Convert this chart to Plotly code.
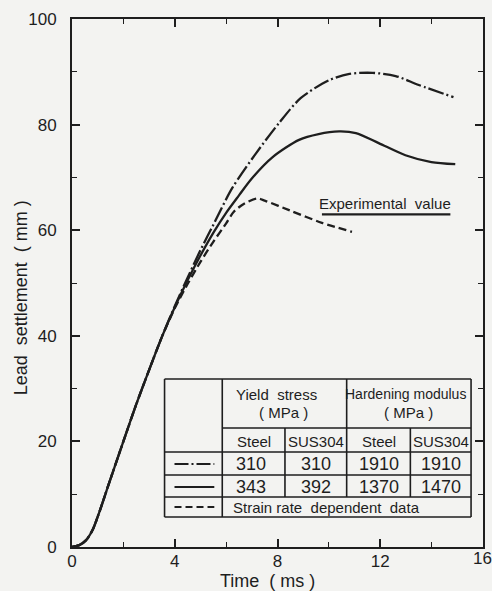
import plotly.graph_objects as go

# ---- data ----
common_x = [0, 0.3, 0.55, 0.8, 1.05, 1.45, 2.0, 2.5, 3.0, 3.5]
common_y = [0, 0.4, 1.3, 3.2, 6.4, 12.2, 20.0, 27.0, 33.5, 39.8]

dashdot_x = [4.0, 4.5, 5.0, 5.5, 6.24, 7.17, 8.06, 8.9, 10.0, 10.8, 11.7, 12.6, 13.5, 14.85]
dashdot_y = [45.6, 51.0, 56.2, 61.0, 68.0, 74.6, 80.3, 85.0, 88.4, 89.6, 89.8, 89.2, 87.5, 85.2]

solid_x = [4.0, 4.5, 5.0, 5.5, 6.0, 6.5, 7.0, 7.8, 8.84, 9.6, 10.4, 11.05, 11.94, 12.98, 13.99, 14.92]
solid_y = [45.4, 50.5, 55.2, 59.5, 63.3, 66.6, 69.8, 73.8, 77.1, 78.2, 78.7, 78.4, 76.5, 74.2, 72.9, 72.5]

dashed_x = [4.0, 4.5, 5.0, 5.5, 6.0, 6.3, 6.7, 7.2, 7.5, 8.45, 9.73, 10.9]
dashed_y = [45.2, 49.8, 54.0, 57.8, 61.3, 63.5, 65.0, 66.0, 65.6, 63.8, 61.4, 59.7]

exp_x = [9.73, 14.73]
exp_y = [63.0, 63.0]

yield_steel = [310, 343]
yield_sus = [310, 392]
hard_steel = [1910, 1370]
hard_sus = [1910, 1470]

x_ticks = [0, 4, 8, 12, 16]
y_ticks = [0, 20, 40, 60, 80, 100]

# ---- layout geometry ----
W, H = 492, 591
L, R, T, B = 72, 485, 19, 547
FONT = "Liberation Sans, Arial, sans-serif"
INK = "#1e1e1e"
BG = "#f3f3f1"
DASHDOT = "16px,3px,2px,3px"
DASHED = "8px,4px"


def P(px, py):
    return ((px - L) / (R - L), (B - py) / (B - T))


fig = go.Figure()
lw = 2.3


def full(xs, ys):
    return common_x + xs, common_y + ys


for xs, ys, dash in [(dashdot_x, dashdot_y, DASHDOT),
                     (solid_x, solid_y, "solid"),
                     (dashed_x, dashed_y, DASHED)]:
    fx, fy = full(xs, ys)
    fig.add_trace(go.Scatter(x=fx, y=fy, mode="lines",
                             line=dict(color=INK, width=lw, dash=dash, shape="spline", smoothing=0.8),
                             showlegend=False, hoverinfo="skip"))

fig.add_trace(go.Scatter(x=exp_x, y=exp_y, mode="lines",
                         line=dict(color=INK, width=2.3), showlegend=False, hoverinfo="skip"))

shapes = []


def seg(x0, y0, x1, y1, dash="solid", w=1.6):
    a = P(x0, y0)
    b = P(x1, y1)
    shapes.append(dict(type="line", xref="paper", yref="paper", x0=a[0], y0=a[1], x1=b[0], y1=b[1],
                       line=dict(color=INK, width=w, dash=dash)))


# table frame
seg(165, 379, 473, 379)
seg(165, 517, 473, 517)
seg(165, 379, 165, 517)
seg(473, 379, 473, 517)
seg(223, 379, 223, 517)
seg(348, 379, 348, 497)
seg(286, 428, 286, 497)
seg(412, 428, 412, 497)
seg(223, 428, 473, 428)
for yy in (452, 475, 497):
    seg(165, yy, 473, yy)
# legend samples
seg(175, 464, 215, 464, dash="14px,3px,2px,3px", w=1.8)
seg(175, 487, 215, 487, dash="solid", w=1.8)
seg(175, 507, 215, 507, dash="7px,4px", w=1.8)

annotations = []


def txt(s, px, py, size=14, xanchor="center", angle=0):
    x, y = P(px, py)
    annotations.append(dict(text=s, x=x, y=y, xref="paper", yref="paper", showarrow=False,
                            xanchor=xanchor, yanchor="middle", textangle=angle,
                            font=dict(family=FONT, size=size, color=INK)))


txt("Yield  stress", 277, 394, size=15)
txt("( MPa )", 285, 412, size=15)
txt("Hardening modulus", 407, 394, size=14)
txt("( MPa )", 410, 412, size=15)
for cx, lab in [(255, "Steel"), (317, "SUS304"), (380, "Steel"), (443, "SUS304")]:
    txt(lab, cx, 441, size=15)
for i, ry in enumerate([464, 487]):
    txt(str(yield_steel[i]), 252, ry, size=18)
    txt(str(yield_sus[i]), 317, ry, size=18)
    txt(str(hard_steel[i]), 380, ry, size=18)
    txt(str(hard_sus[i]), 443, ry, size=18)
txt("Strain rate  dependent  data", 232, 507, size=15, xanchor="left")

txt("Experimental  value", 387, 203, size=15)
txt("Lead  settlement  ( mm )", 21, 298, size=18, angle=-90)
txt("Time  ( ms )", 268, 581, size=18)
txt(str(x_ticks[-1]), 484, 558, size=17)

fig.update_layout(
    width=W, height=H,
    margin=dict(l=L, r=W - R, t=T, b=H - B, pad=0),
    paper_bgcolor=BG, plot_bgcolor=BG,
    shapes=shapes, annotations=annotations,
    font=dict(family=FONT, color=INK, size=17),
)
fig.update_xaxes(range=[0, 16], tickvals=x_ticks[:-1], ticks="inside", ticklen=8, tickwidth=1.6,
                 tickcolor=INK, showline=True, linecolor=INK, linewidth=2, mirror="ticks",
                 showgrid=False, zeroline=False, ticklabelstandoff=-2,
                 minor=dict(dtick=2, ticks="inside", ticklen=5, tickwidth=1.4, tickcolor=INK),
                 tickfont=dict(family=FONT, size=17, color=INK))
fig.update_yaxes(range=[0, 100], tickvals=y_ticks, ticks="inside", ticklen=8, tickwidth=1.6,
                 tickcolor=INK, showline=True, linecolor=INK, linewidth=2, mirror="ticks",
                 showgrid=False, zeroline=False,
                 minor=dict(dtick=10, ticks="inside", ticklen=5, tickwidth=1.4, tickcolor=INK),
                 tickfont=dict(family=FONT, size=17, color=INK), ticklabelstandoff=10)

fig.write_html("out.html", config={"displayModeBar": False},
               post_script="document.body.style.margin='0';document.body.style.overflow='hidden';"
                           "document.body.style.background='" + BG + "';")
